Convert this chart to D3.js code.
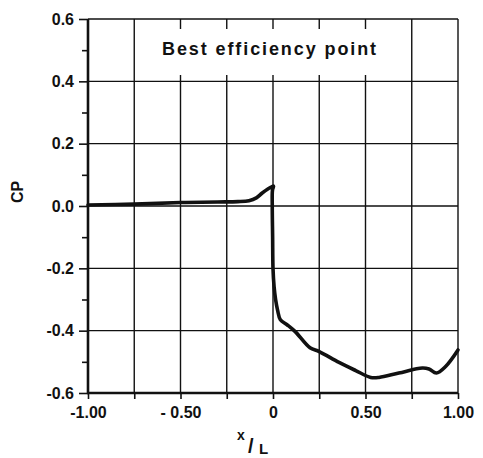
<!DOCTYPE html>
<html>
<head>
<meta charset="utf-8">
<script src="https://cdn.jsdelivr.net/npm/d3@7"></script>
<style>
  html, body { margin: 0; padding: 0; background: #fff; }
  svg { display: block; }
  text { font-family: "Liberation Sans", Arial, sans-serif; font-weight: bold; fill: #111; }
</style>
</head>
<body>
<svg id="chart" width="483" height="458"></svg>
<script>
// ---- data ----
const xPos = [-1.0, -0.75, -0.5, -0.3, -0.19, -0.13, -0.09, -0.06, -0.03, -0.008, 0.003, -0.003, -0.004, -0.002, 0.0, 0.006, 0.014, 0.025, 0.04, 0.076, 0.12, 0.2, 0.25, 0.357, 0.447, 0.528, 0.573, 0.68, 0.807, 0.843, 0.883, 0.933, 1.0];
const cpValues = [0.003, 0.006, 0.011, 0.013, 0.014, 0.017, 0.026, 0.041, 0.054, 0.061, 0.064, 0.05, 0.0, -0.1, -0.2, -0.26, -0.30, -0.335, -0.365, -0.381, -0.403, -0.455, -0.467, -0.502, -0.528, -0.55, -0.55, -0.536, -0.52, -0.523, -0.536, -0.515, -0.462];
const xTicks = [-1.0, -0.75, -0.5, -0.25, 0.0, 0.25, 0.5, 0.75, 1.0];
const xTickLabels = {"-1": "-1.00", "-0.5": "- 0.50", "0": "0", "0.5": "0.50", "1": "1.00"};
const yTicks = [-0.6, -0.4, -0.2, 0.0, 0.2, 0.4, 0.6];
const yTickLabels = ["-0.6", "-0.4", "-0.2", "0.0", "0.2", "0.4", "0.6"];
const yMinorTicks = [-0.5, -0.3, -0.1, 0.1, 0.3, 0.5];
const title = "Best efficiency point";
const yTitle = "CP";

// ---- layout ----
const svg = d3.select("#chart");
const x = d3.scaleLinear().domain([-1, 1]).range([88, 458]);
const y = d3.scaleLinear().domain([-0.6, 0.6]).range([393, 19]);
const ink = "#111";

// grid
const grid = svg.append("g");
grid.selectAll("line.v").data(xTicks).join("line")
  .attr("x1", d => x(d)).attr("x2", d => x(d))
  .attr("y1", y(0.6)).attr("y2", y(-0.6))
  .attr("stroke", ink).attr("stroke-width", 1.4);
grid.selectAll("line.h").data(yTicks).join("line")
  .attr("x1", x(-1)).attr("x2", x(1))
  .attr("y1", d => y(d)).attr("y2", d => y(d))
  .attr("stroke", ink).attr("stroke-width", 1.4);

// white title box interrupting grid
svg.append("rect").attr("x", 150).attr("y", 29).attr("width", 250).attr("height", 46).attr("fill", "#fff");
svg.append("text").attr("x", 270).attr("y", 55).attr("text-anchor", "middle")
  .style("font-size", "18px").style("letter-spacing", "1.9px").text(title);

// axes
const yAxis = svg.append("g").attr("transform", `translate(${x(-1)},0)`)
  .call(d3.axisLeft(y).tickValues(yTicks).tickSize(9).tickPadding(5)
    .tickFormat((d, i) => yTickLabels[i]));
const yMinor = svg.append("g").attr("transform", `translate(${x(-1)},0)`)
  .call(d3.axisLeft(y).tickValues(yMinorTicks).tickSize(6).tickFormat(""));
const xAxis = svg.append("g").attr("transform", `translate(0,${y(-0.6)})`)
  .call(d3.axisBottom(x).tickValues(xTicks).tickSize(6).tickPadding(8)
    .tickFormat(d => xTickLabels[String(d)] || ""));
[yAxis, yMinor, xAxis].forEach(g => {
  g.select(".domain").remove();
  g.selectAll(".tick line").attr("stroke", ink).attr("stroke-width", 1.6);
  g.selectAll("text").style("font-size", "16px").attr("fill", ink);
});
// thick axis lines
svg.append("line").attr("x1", x(-1)).attr("x2", x(-1)).attr("y1", y(0.6)).attr("y2", y(-0.6) + 1)
  .attr("stroke", ink).attr("stroke-width", 2.6);
svg.append("line").attr("x1", x(-1) - 1).attr("x2", x(1)).attr("y1", y(-0.6)).attr("y2", y(-0.6))
  .attr("stroke", ink).attr("stroke-width", 2.6);

// curve
const line = d3.line().x((d, i) => x(xPos[i])).y(d => y(d)).curve(d3.curveCatmullRom.alpha(0.5));
svg.append("path").datum(cpValues).attr("d", line)
  .attr("fill", "none").attr("stroke", ink).attr("stroke-width", 3.6)
  .attr("stroke-linejoin", "round").attr("stroke-linecap", "round");

// axis titles
svg.append("text").attr("transform", "translate(23,192) rotate(-90)").attr("text-anchor", "middle")
  .style("font-size", "16px").text(yTitle);
svg.append("text").attr("x", 237).attr("y", 440).style("font-size", "14px").text("x");
svg.append("text").attr("x", 248).attr("y", 453).style("font-size", "20px").text("/");
svg.append("text").attr("x", 259).attr("y", 454).style("font-size", "15px").text("L");
</script>
</body>
</html>
